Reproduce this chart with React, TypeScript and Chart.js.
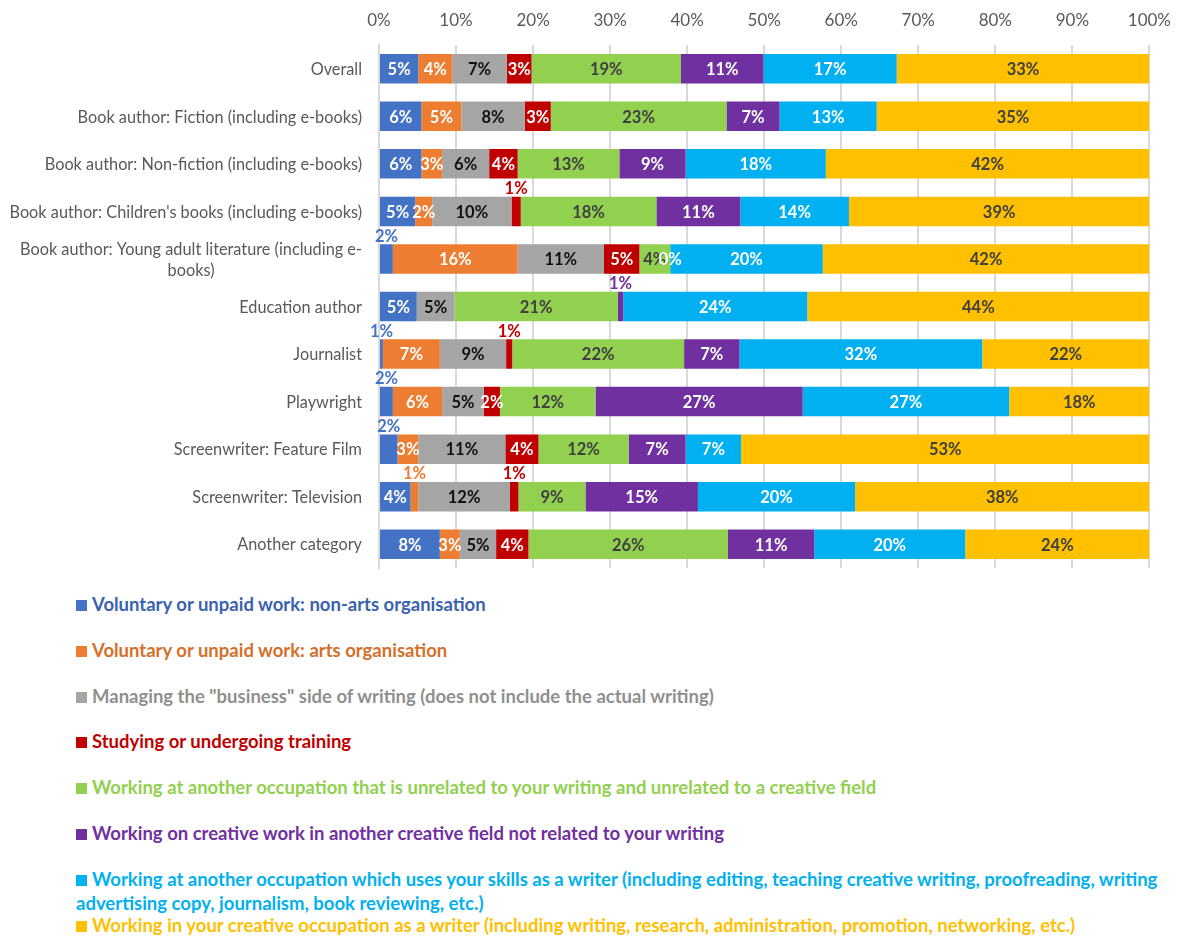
import React, { useEffect, useRef } from "react";
import { Chart, registerables } from "chart.js";

Chart.register(...registerables);

// ---------- data ----------
const categories: (string | string[])[] = [
  "Overall",
  "Book author: Fiction (including e-books)",
  "Book author: Non-fiction (including e-books)",
  "Book author: Children's books (including e-books)",
  ["Book author: Young adult literature (including e-", "books)"],
  "Education author",
  "Journalist",
  "Playwright",
  "Screenwriter: Feature Film",
  "Screenwriter: Television",
  "Another category",
];

const seriesNames = [
  "Voluntary or unpaid work: non-arts organisation",
  "Voluntary or unpaid work: arts organisation",
  'Managing the "business" side of writing (does not include the actual writing)',
  "Studying or undergoing training",
  "Working at another occupation that is unrelated to your writing and unrelated to a creative field",
  "Working on creative work in another creative field not related to your writing",
  "Working at another occupation which uses your skills as a writer (including editing, teaching creative writing, proofreading, writing advertising copy, journalism, book reviewing, etc.)",
  "Working in your creative occupation as a writer (including writing, research, administration, promotion, networking, etc.)",
];

const unpaidNonArts = [5.1, 5.5, 5.5, 4.7, 1.8, 4.9, 0.5, 1.8, 2.4, 4.1, 7.9];
const unpaidArts = [4.4, 5.2, 2.7, 2.2, 16.2, null, 7.4, 6.4, 2.7, 1.0, 2.6];
const businessSide = [7.1, 8.2, 6.1, 10.3, 11.2, 4.9, 8.6, 5.4, 11.3, 11.9, 4.7];
const studying = [3.2, 3.4, 3.7, 1.2, 4.6, null, 0.8, 2.1, 4.3, 1.1, 4.2];
const unrelatedJob = [19.4, 22.8, 13.2, 17.6, 4.0, 21.2, 22.3, 12.4, 11.7, 8.7, 25.9];
const otherCreative = [10.7, 6.9, 8.6, 10.9, 0, 0.7, 7.2, 26.9, 7.4, 14.6, 11.2];
const writingSkillsJob = [17.3, 12.6, 18.2, 14.1, 19.8, 23.9, 31.5, 26.8, 7.2, 20.4, 19.6];
const creativeWriting = [32.8, 35.4, 42.0, 39.0, 42.4, 44.4, 21.7, 18.2, 53.0, 38.2, 23.9];

const seriesValues = [
  unpaidNonArts,
  unpaidArts,
  businessSide,
  studying,
  unrelatedJob,
  otherCreative,
  writingSkillsJob,
  creativeWriting,
];

const xTicks = [0, 10, 20, 30, 40, 50, 60, 70, 80, 90, 100];

// ---------- styles ----------
const seriesColors = ["#4472C4", "#ED7D31", "#A5A5A5", "#C00000", "#92D050", "#7030A0", "#00B0F0", "#FFC000"];
const legendTextColors = ["#3A62AE", "#D5702A", "#8F8F8F", "#C00000", "#92D050", "#7030A0", "#00B0F0", "#FFC000"];
const insideLabelColors = ["#FFFFFF", "#FFFFFF", "#111111", "#FFFFFF", "#404040", "#FFFFFF", "#FFFFFF", "#404040"];
// labels shown above their (thin) segment: "row|series"
const labelsAbove = new Set(["3|3", "4|0", "5|5", "6|0", "6|3", "7|0", "8|0", "9|1", "9|3"]);

const FONT = "Lato, 'Open Sans', sans-serif";

const segmentLabelPlugin = {
  id: "segmentLabels",
  afterDatasetsDraw(chart: any) {
    const ctx = chart.ctx;
    ctx.save();
    ctx.font = `bold 16.5px ${FONT}`;
    ctx.textAlign = "center";
    ctx.textBaseline = "middle";
    chart.data.datasets.forEach((ds: any, s: number) => {
      const meta = chart.getDatasetMeta(s);
      meta.data.forEach((bar: any, r: number) => {
        const v = ds.data[r];
        if (v === null || v === undefined) return;
        const p = bar.getProps(["x", "y", "base", "height"], true);
        const cx = (p.x + p.base) / 2;
        const text = Math.round(v) + "%";
        if (labelsAbove.has(`${r}|${s}`)) {
          ctx.fillStyle = seriesColors[s];
          ctx.fillText(text, cx, p.y - p.height / 2 - 8);
        } else {
          ctx.fillStyle = insideLabelColors[s];
          ctx.fillText(text, cx, p.y + 1);
        }
      });
    });
    ctx.restore();
  },
};

const categoryLabelPlugin = {
  id: "categoryLabels",
  afterDraw(chart: any) {
    const ctx = chart.ctx;
    const yScale = chart.scales.y;
    const right = chart.chartArea.left - 17;
    const lineH = 21;
    ctx.save();
    ctx.font = `16.3px ${FONT}`;
    ctx.fillStyle = "#595959";
    ctx.textBaseline = "middle";
    ctx.textAlign = "center";
    categories.forEach((lab, i) => {
      const lines = Array.isArray(lab) ? lab : [lab];
      const widest = Math.max(...lines.map((l) => ctx.measureText(l).width));
      const cx = right - widest / 2;
      const y0 = yScale.getPixelForTick(i) - ((lines.length - 1) * lineH) / 2;
      lines.forEach((l, k) => ctx.fillText(l, cx, y0 + k * lineH + 1));
    });
    ctx.restore();
  },
};

function StackedChart() {
  const ref = useRef<HTMLCanvasElement | null>(null);
  useEffect(() => {
    if (!ref.current) return;
    const chart = new Chart(ref.current, {
      type: "bar",
      data: {
        labels: categories.map((c) => (Array.isArray(c) ? c.join(" ") : c)),
        datasets: seriesNames.map((name, s) => ({
          label: name,
          data: seriesValues[s] as any,
          backgroundColor: seriesColors[s],
          borderWidth: 0,
          categoryPercentage: 1,
          barPercentage: 0.62,
        })),
      },
      options: {
        indexAxis: "y",
        responsive: false,
        animation: false,
        devicePixelRatio: 1,
        layout: { padding: { left: 0, right: 33, top: 0, bottom: 10 } },
        plugins: {
          legend: { display: false },
          tooltip: { enabled: false },
          title: { display: false },
        },
        scales: {
          x: {
            type: "linear",
            position: "top",
            stacked: true,
            min: 0,
            max: 100,
            afterBuildTicks: (scale: any) => {
              scale.ticks = xTicks.map((v) => ({ value: v }));
            },
            afterFit: (scale: any) => {
              scale.height = 45;
            },
            ticks: {
              padding: 14,
              color: "#595959",
              font: { family: FONT, size: 17 },
              callback: (v: any) => v + "%",
            },
            grid: { color: "#D9D9D9", lineWidth: 2, drawTicks: false },
            border: { display: false },
          },
          y: {
            type: "category",
            stacked: true,
            afterFit: (scale: any) => {
              scale.width = 379;
            },
            ticks: { display: false },
            grid: { display: false },
            border: { display: true, color: "#D9D9D9", width: 2 },
          },
        },
      },
      plugins: [segmentLabelPlugin, categoryLabelPlugin],
    } as any);
    return () => chart.destroy();
  }, []);
  return <canvas ref={ref} width={1185} height={578} style={{ display: "block" }} />;
}

function Legend() {
  return (
    <div style={{ position: "absolute", left: 76, top: 592, width: 1100 }}>
      {seriesNames.map((name, s) => (
        <div
          key={s}
          style={{
            height: 45.8,
            lineHeight: "24px",
            fontFamily: FONT,
            fontWeight: 700,
            fontSize: 18.5,
            color: legendTextColors[s],
            whiteSpace: "normal",
          }}
        >
          <span
            style={{
              display: "inline-block",
              width: 11,
              height: 11,
              background: seriesColors[s],
              marginRight: 5,
              verticalAlign: "0px",
            }}
          />
          {name}
        </div>
      ))}
    </div>
  );
}

export default function App() {
  return (
    <div
      style={{
        position: "absolute",
        left: 0,
        top: 0,
        width: 1185,
        height: 938,
        background: "#FFFFFF",
        overflow: "hidden",
      }}
    >
      <StackedChart />
      <Legend />
    </div>
  );
}
